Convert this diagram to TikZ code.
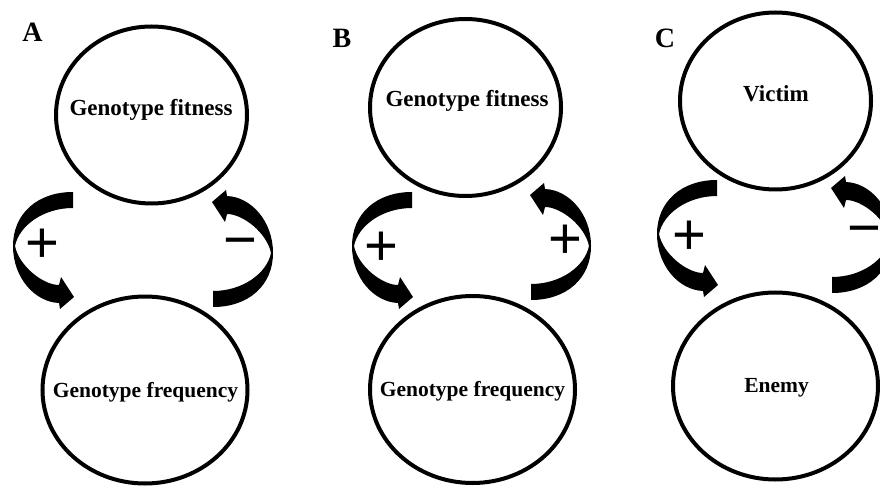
\documentclass[tikz,border=0pt]{standalone}
\usepackage{fontspec}
\setmainfont{Liberation Serif}
\newfontfamily\signfont{Liberation Sans}
\usetikzlibrary{shapes.geometric}
\newcommand\curvedarrow[2]{%
  \begin{scope}[shift={(#1)}, rotate=#2]
    \fill[black] (60,-54) .. controls (24,-54) and (0,-32) .. (0,0)
      .. controls (0,32) and (22,56) .. (46,57)
      -- (47,63) -- (61,51) -- (48,31) -- (46,39)
      .. controls (30,39) and (6,20) .. (2,0)
      .. controls (6,-20) and (30,-38) .. (60,-38) -- cycle;
  \end{scope}}
\begin{document}
\begin{tikzpicture}[x=1pt,y=-1pt,
  circ/.style={draw=black, line width=4pt, ellipse, inner sep=0pt, outer sep=0pt},
  topc/.style={circ, minimum width=191pt, minimum height=177pt},
  botc/.style={circ, minimum width=205pt, minimum height=187pt},
  toplbl/.style={font=\fontsize{23}{26}\selectfont\bfseries, inner sep=0pt},
  botlbl/.style={font=\fontsize{21.5}{24}\selectfont\bfseries, inner sep=0pt},
  panel/.style={font=\fontsize{28}{30}\selectfont\bfseries, inner sep=0pt},
  sign/.style={font=\signfont\fontsize{58}{60}\selectfont, inner sep=0pt}]
\useasboundingbox (0,0) rectangle (880,486);
\clip (0,0) rectangle (880,486);
\fill[white] (0,0) rectangle (880,486);

% panel letters
\node[panel] (pA) at (32.5,32.5) {A};
\node[panel] (pB) at (342,38) {B};
\node[panel] (pC) at (665,38) {C};

% circles
\node[topc] (fitA) at (151.5,115) {};
\node[botc] (freqA) at (145,390) {};
\node[topc] (fitB) at (465.5,107.5) {};
\node[botc] (freqB) at (472.5,389.5) {};
\node[topc] (vic) at (775.5,101) {};
\node[botc] (ene) at (775.5,386) {};

% labels
\node[toplbl] (tfitA) at (151,110) {Genotype fitness};
\node[botlbl] (tfreqA) at (145.5,392) {Genotype frequency};
\node[toplbl] (tfitB) at (467,101) {Genotype fitness};
\node[botlbl] (tfreqB) at (472.5,391) {Genotype frequency};
\node[toplbl] (tvic) at (776,94) {Victim};
\node[botlbl] (tene) at (776.5,388) {Enemy};

% arrow anchors
\coordinate (aAl) at (13,246);
\coordinate (aAr) at (273,253);
\coordinate (aBl) at (352,246);
\coordinate (aBr) at (591,246);
\coordinate (aCl) at (657,234);
\coordinate (aCr) at (892,239);
\curvedarrow{aAl}{0}
\curvedarrow{aAr}{180}
\curvedarrow{aBl}{0}
\curvedarrow{aBr}{180}
\curvedarrow{aCl}{0}
\curvedarrow{aCr}{180}

% signs
\node[sign] (sAl) at (42.5,246) {+};
\node[sign] (sAr) at (240,249) {−};
\node[sign] (sBl) at (381.5,248.5) {+};
\node[sign] (sBr) at (565.5,242) {+};
\node[sign] (sCl) at (689,238) {+};
\node[sign] (sCr) at (864,237) {−};
\end{tikzpicture}
\end{document}
